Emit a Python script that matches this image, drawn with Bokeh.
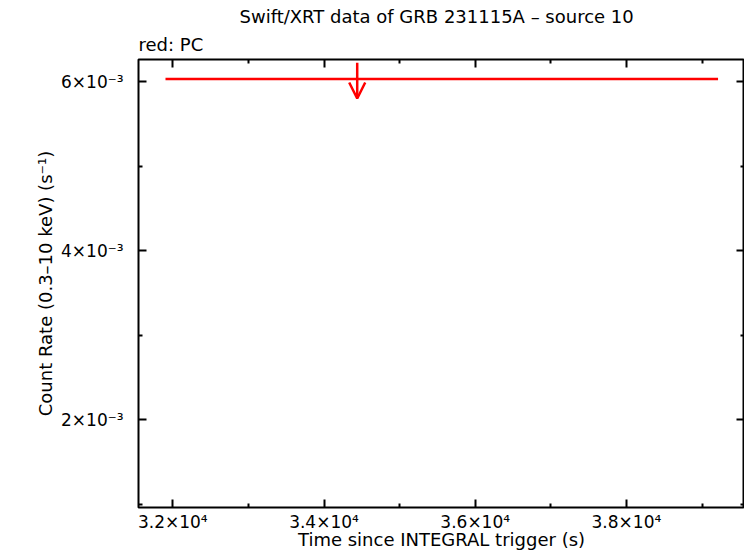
from bokeh.plotting import figure
from bokeh.models import (Range1d, FixedTicker, LinearAxis, Title, Arrow, OpenHead,
                          CustomJSTickFormatter, ColumnDataSource)
from bokeh.embed import file_html
from bokeh.resources import INLINE

# ---- text ----
title_text = "Swift/XRT data of GRB 231115A \u2013 source 10"
subtitle_text = "red: PC"
x_label = "Time since INTEGRAL trigger (s)"
y_label = "Count Rate (0.3\u201310 keV) (s\u207b\u00b9)"

# ---- ticks ----
x_major_ticks = [32000, 34000, 36000, 38000]
x_minor_ticks = [33000, 35000, 37000, 39000]
x_tick_labels = ["3.2\u00d710\u2074", "3.4\u00d710\u2074", "3.6\u00d710\u2074", "3.8\u00d710\u2074"]
y_major_ticks = [0.002, 0.004, 0.006]
y_minor_ticks = [0.001, 0.003, 0.005]
y_tick_labels = ["2\u00d710\u207b\u00b3", "4\u00d710\u207b\u00b3", "6\u00d710\u207b\u00b3"]

# ---- data (PC mode upper limit) ----
pc_t_start = [31903]
pc_t_end = [39212]
pc_t = [34439]
pc_rate_ul = [6.032e-3]

x_lim = (31546, 39562)
y_lim = (0.963e-3, 6.264e-3)

FONT = "DejaVu Sans"
FS_TICK = "17px"
FS_TEXT = "18px"

src = ColumnDataSource(dict(
    t=pc_t, t0=pc_t_start, t1=pc_t_end, rate=pc_rate_ul,
    top=[r * 1.032 for r in pc_rate_ul], bot=[r * 0.962 for r in pc_rate_ul],
))

p = figure(frame_width=606, frame_height=448, output_backend="svg", toolbar_location=None,
           x_range=Range1d(*x_lim), y_range=Range1d(*y_lim),
           min_border_left=138, min_border_right=0, min_border_top=59, min_border_bottom=0)
p.title.visible = False
p.xgrid.visible = False
p.ygrid.visible = False
p.outline_line_color = "black"
p.outline_line_width = 2
p.background_fill_color = "white"
p.border_fill_color = "white"

xt = FixedTicker(ticks=x_major_ticks, minor_ticks=x_minor_ticks)
yt = FixedTicker(ticks=y_major_ticks, minor_ticks=y_minor_ticks)


def style_axis(ax, ticker):
    ax.ticker = ticker
    ax.axis_line_color = None
    ax.major_tick_in = 8
    ax.major_tick_out = 0
    ax.minor_tick_in = 4
    ax.minor_tick_out = 0
    ax.major_tick_line_width = 2
    ax.minor_tick_line_width = 2
    ax.major_tick_line_color = "black"
    ax.minor_tick_line_color = "black"
    ax.major_label_text_font = FONT
    ax.major_label_text_font_size = FS_TICK
    ax.major_label_text_color = "black"
    ax.axis_label_text_font = FONT
    ax.axis_label_text_font_size = FS_TEXT
    ax.axis_label_text_font_style = "normal"
    ax.axis_label_text_color = "black"


xa = p.xaxis[0]
style_axis(xa, xt)
xa.major_label_overrides = dict(zip(x_major_ticks, x_tick_labels))
xa.axis_label = x_label
xa.major_label_standoff = 4
xa.axis_label_standoff = -6

ya = p.yaxis[0]
style_axis(ya, yt)
ya.major_label_overrides = dict(zip(y_major_ticks, y_tick_labels))
ya.major_label_orientation = "horizontal"
ya.axis_label = y_label
ya.major_label_standoff = 15
ya.axis_label_standoff = 2

# mirrored ticks on right and top
blank = CustomJSTickFormatter(code="return ''")
ra = LinearAxis()
style_axis(ra, yt)
ra.formatter = blank
ra.major_label_text_font_size = "0px"
ra.major_label_standoff = 0
p.add_layout(ra, "right")
ta = LinearAxis()
style_axis(ta, xt)
ta.formatter = blank
ta.major_label_text_font_size = "0px"
ta.major_label_standoff = 0
p.add_layout(ta, "above")

# titles
p.add_layout(Title(text=subtitle_text, align="left", text_font=FONT, text_font_size=FS_TEXT,
                   text_font_style="normal", text_color="black", standoff=9), "above")
p.add_layout(Title(text=title_text, align="left", text_font=FONT, text_font_size=FS_TEXT,
                   text_font_style="normal", text_color="black", offset=101, standoff=2), "above")

# data
p.segment(x0="t0", y0="rate", x1="t1", y1="rate", source=src, line_color="red", line_width=2.5)
p.add_layout(Arrow(end=OpenHead(size=16, line_color="red", line_width=2.5),
                   x_start="t", y_start="top", x_end="t", y_end="bot", source=src,
                   line_color="red", line_width=2.5))

open("out.html", "w").write(file_html(p, INLINE))
